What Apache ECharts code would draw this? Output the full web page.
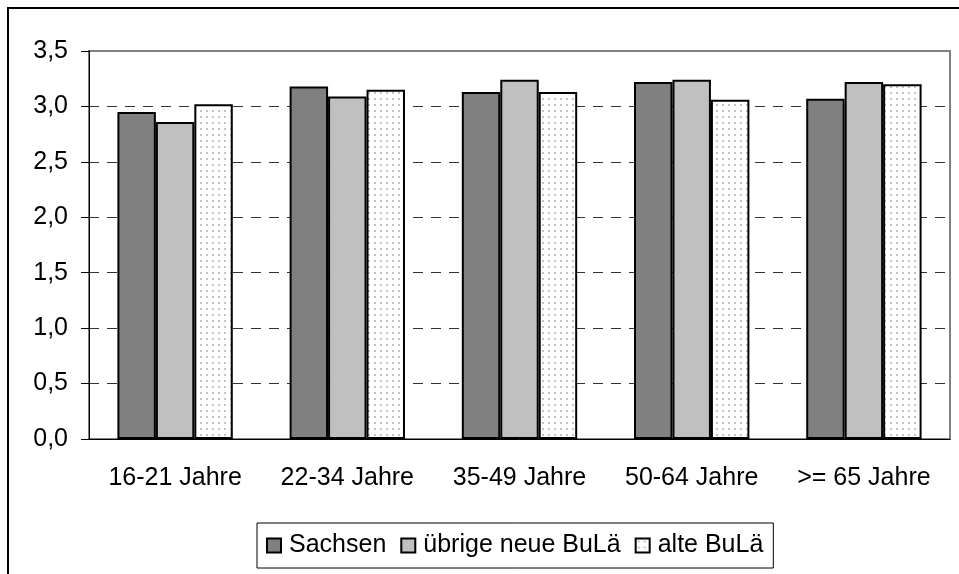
<!DOCTYPE html>
<html>
<head>
<meta charset="utf-8">
<script src="https://cdn.jsdelivr.net/npm/echarts@6/dist/echarts.min.js"></script>
<style>
  html, body { margin: 0; padding: 0; background: #fff; }
  #chart { width: 959px; height: 574px; }
</style>
</head>
<body>
<div id="chart"></div>
<script>
const categories = ['16-21 Jahre', '22-34 Jahre', '35-49 Jahre', '50-64 Jahre', '>= 65 Jahre'];
const sachsen = [2.95, 3.18, 3.13, 3.22, 3.07];
const uebrigeNeue = [2.86, 3.09, 3.24, 3.24, 3.22];
const alteBula = [3.02, 3.15, 3.13, 3.06, 3.20];
const seriesNames = ['Sachsen', 'übrige neue BuLä', 'alte BuLä'];

// dotted fill like the excel pattern
function dotPattern() {
  const c = document.createElement('canvas');
  c.width = 6; c.height = 6;
  const ctx = c.getContext('2d');
  ctx.fillStyle = '#fff';
  ctx.fillRect(0, 0, 6, 6);
  ctx.fillStyle = '#c4c4c4';
  ctx.fillRect(2, 2, 2, 2);
  return c;
}
const dots = { image: dotPattern(), repeat: 'repeat' };

const font = '"Liberation Sans", Arial, sans-serif';
const chart = echarts.init(document.getElementById('chart'), null, { renderer: 'canvas' });

const barStyle = (fill) => ({ color: fill, borderColor: '#000', borderWidth: 2 });

const option = {
  animation: false,
  textStyle: { fontFamily: font, color: '#000' },
  graphic: [{
    type: 'rect',
    shape: { x: 8, y: 8, width: 1000, height: 1000 },
    style: { fill: 'none', stroke: '#000', lineWidth: 2 },
    silent: true
  }],
  grid: {
    left: 89, right: 9, top: 51, bottom: 135,
    show: true, borderColor: '#808080', borderWidth: 2, backgroundColor: '#fff'
  },
  legend: {
    data: seriesNames,
    icon: 'rect',
    left: 257, top: 523,
    padding: [10, 10, 10, 9],
    itemGap: 14,
    itemWidth: 14, itemHeight: 14,
    borderColor: '#000', borderWidth: 1,
    textStyle: { fontSize: 25, fontFamily: font, color: '#000', padding: [0, 0, 0, 3] }
  },
  xAxis: {
    type: 'category',
    data: categories,
    axisLine: { lineStyle: { color: '#000', width: 1 } },
    axisTick: { length: 7, lineStyle: { color: '#000' } },
    axisLabel: { interval: 0, fontSize: 25, color: '#000', margin: 27, fontFamily: font }
  },
  yAxis: {
    type: 'value',
    min: 0, max: 3.5, interval: 0.5,
    axisLine: { show: true, lineStyle: { color: '#000', width: 1 } },
    axisTick: { show: true, length: 8, lineStyle: { color: '#000' } },
    axisLabel: {
      fontSize: 25, color: '#000', margin: 21, fontFamily: font,
      formatter: (v) => v.toFixed(1).replace('.', ',')
    },
    splitLine: { showMaxLine: false, lineStyle: { color: '#333', type: [10, 8], width: 1 } }
  },
  series: [
    { name: seriesNames[0], type: 'bar', data: sachsen, barGap: '0%', barCategoryGap: '33%', itemStyle: barStyle('#808080') },
    { name: seriesNames[1], type: 'bar', data: uebrigeNeue, barGap: '0%', barCategoryGap: '33%', itemStyle: barStyle('#c0c0c0') },
    { name: seriesNames[2], type: 'bar', data: alteBula, barGap: '0%', barCategoryGap: '33%', itemStyle: barStyle(dots) }
  ]
};
chart.setOption(option);
</script>
</body>
</html>
